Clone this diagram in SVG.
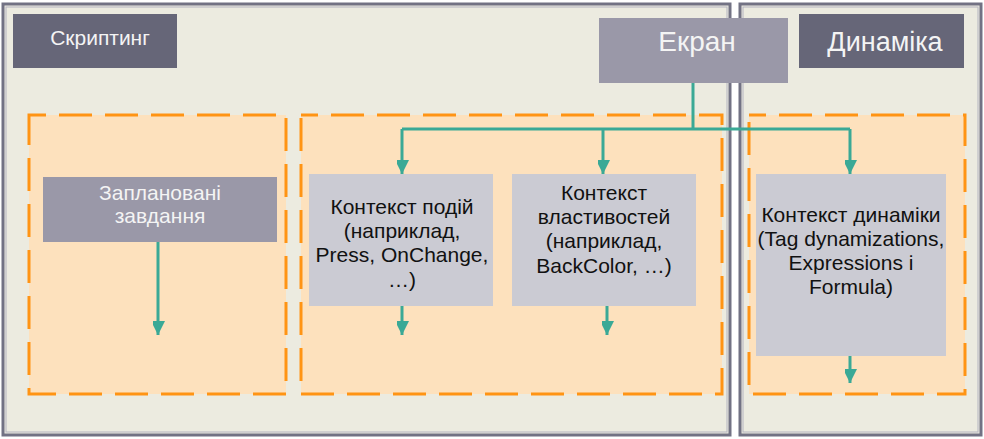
<svg xmlns="http://www.w3.org/2000/svg" width="984" height="439" viewBox="0 0 984 439">
  <style>
    .panel { fill: #ecebe0; stroke: #727284; stroke-width: 3; }
    .panel-inner { fill: none; stroke: #b4b4c0; stroke-width: 1; }
    .zone { fill: #fde1bd; stroke: #ff9414; stroke-width: 3; stroke-dasharray: 33 13; stroke-dashoffset: 16; }
    .title { fill: #666678; }
    .source { fill: #9a98a8; }
    .ctx { fill: #cbcbd3; }
    .lbl { font-family: "Liberation Sans", Arial, sans-serif; text-anchor: middle; }
    .light { fill: #f4f4f4; }
    .dark { fill: #111111; font-size: 21px; }
    .link { fill: none; stroke: #3aa996; stroke-width: 3; }
  </style>
  <defs>
    <marker id="arrow" markerUnits="userSpaceOnUse" markerWidth="16" markerHeight="12" refX="14" refY="7" orient="auto">
      <path d="M0,0 L14,7 L0,14 z" fill="#3aa996"/>
    </marker>
  </defs>

  <rect width="984" height="439" fill="#ffffff"/>

  <!-- panels -->
  <g id="panel-scripting">
    <rect class="panel" x="3" y="4" width="727" height="431"/>
    <rect class="panel-inner" x="6" y="7" width="721" height="425"/>
  </g>
  <g id="panel-dynamics">
    <rect class="panel" x="740" y="4" width="241" height="431"/>
    <rect class="panel-inner" x="743" y="7" width="235" height="425"/>
  </g>

  <!-- dashed zones -->
  <g id="zone-scheduled"><rect class="zone" x="29" y="115" width="257" height="279"/></g>
  <g id="zone-screen"><rect class="zone" x="301" y="115" width="421" height="279"/></g>
  <g id="zone-dynamic"><rect class="zone" x="749" y="115" width="216" height="279"/></g>

  <!-- headers -->
  <g id="scripting">
    <rect class="title" x="13" y="14" width="164" height="54"/>
    <text class="lbl light" x="100" y="45" font-size="21">Скриптинг</text>
  </g>
  <g id="dynamics">
    <rect class="title" x="799" y="14" width="165" height="54"/>
    <text class="lbl light" x="885" y="51" font-size="27">Динаміка</text>
  </g>
  <g id="screen">
    <rect class="source" x="599" y="18" width="189" height="65"/>
    <text class="lbl light" x="697" y="51" font-size="28">Екран</text>
  </g>
  <g id="scheduled-tasks">
    <rect class="source" x="43" y="177" width="234" height="65"/>
    <text class="lbl light" font-size="21"><tspan x="160" y="200">Заплановані</tspan><tspan x="160" y="223">завдання</tspan></text>
  </g>
  <g id="event-context">
    <rect class="ctx" x="309" y="174" width="184" height="132"/>
    <text class="lbl dark"><tspan x="402" y="214">Контекст подій</tspan><tspan x="402" y="238">(наприклад,</tspan><tspan x="402" y="262">Press, OnChange,</tspan><tspan x="402" y="287">…)</tspan></text>
  </g>
  <g id="property-context">
    <rect class="ctx" x="512" y="174" width="184" height="132"/>
    <text class="lbl dark"><tspan x="604" y="200">Контекст</tspan><tspan x="604" y="224">властивостей</tspan><tspan x="604" y="248">(наприклад,</tspan><tspan x="604" y="273">BackColor, …)</tspan></text>
  </g>
  <g id="dynamic-context">
    <rect class="ctx" x="756" y="174" width="190" height="182"/>
    <text class="lbl dark"><tspan x="851" y="222">Контекст динаміки</tspan><tspan x="851" y="246">(Tag dynamizations,</tspan><tspan x="851" y="270">Expressions і</tspan><tspan x="851" y="294">Formula)</tspan></text>
  </g>

  <!-- connectors -->
  <g id="connectors">
    <path class="link" d="M693,83 V129"/>
    <path class="link" d="M402,129 H850"/>
    <path class="link" d="M402,129 V174" marker-end="url(#arrow)"/>
    <path class="link" d="M603,129 V174" marker-end="url(#arrow)"/>
    <path class="link" d="M850,129 V174" marker-end="url(#arrow)"/>
    <path class="link" d="M158,242 V335" marker-end="url(#arrow)"/>
    <path class="link" d="M402,306 V335" marker-end="url(#arrow)"/>
    <path class="link" d="M607,306 V335" marker-end="url(#arrow)"/>
    <path class="link" d="M850,356 V383" marker-end="url(#arrow)"/>
  </g>
</svg>
